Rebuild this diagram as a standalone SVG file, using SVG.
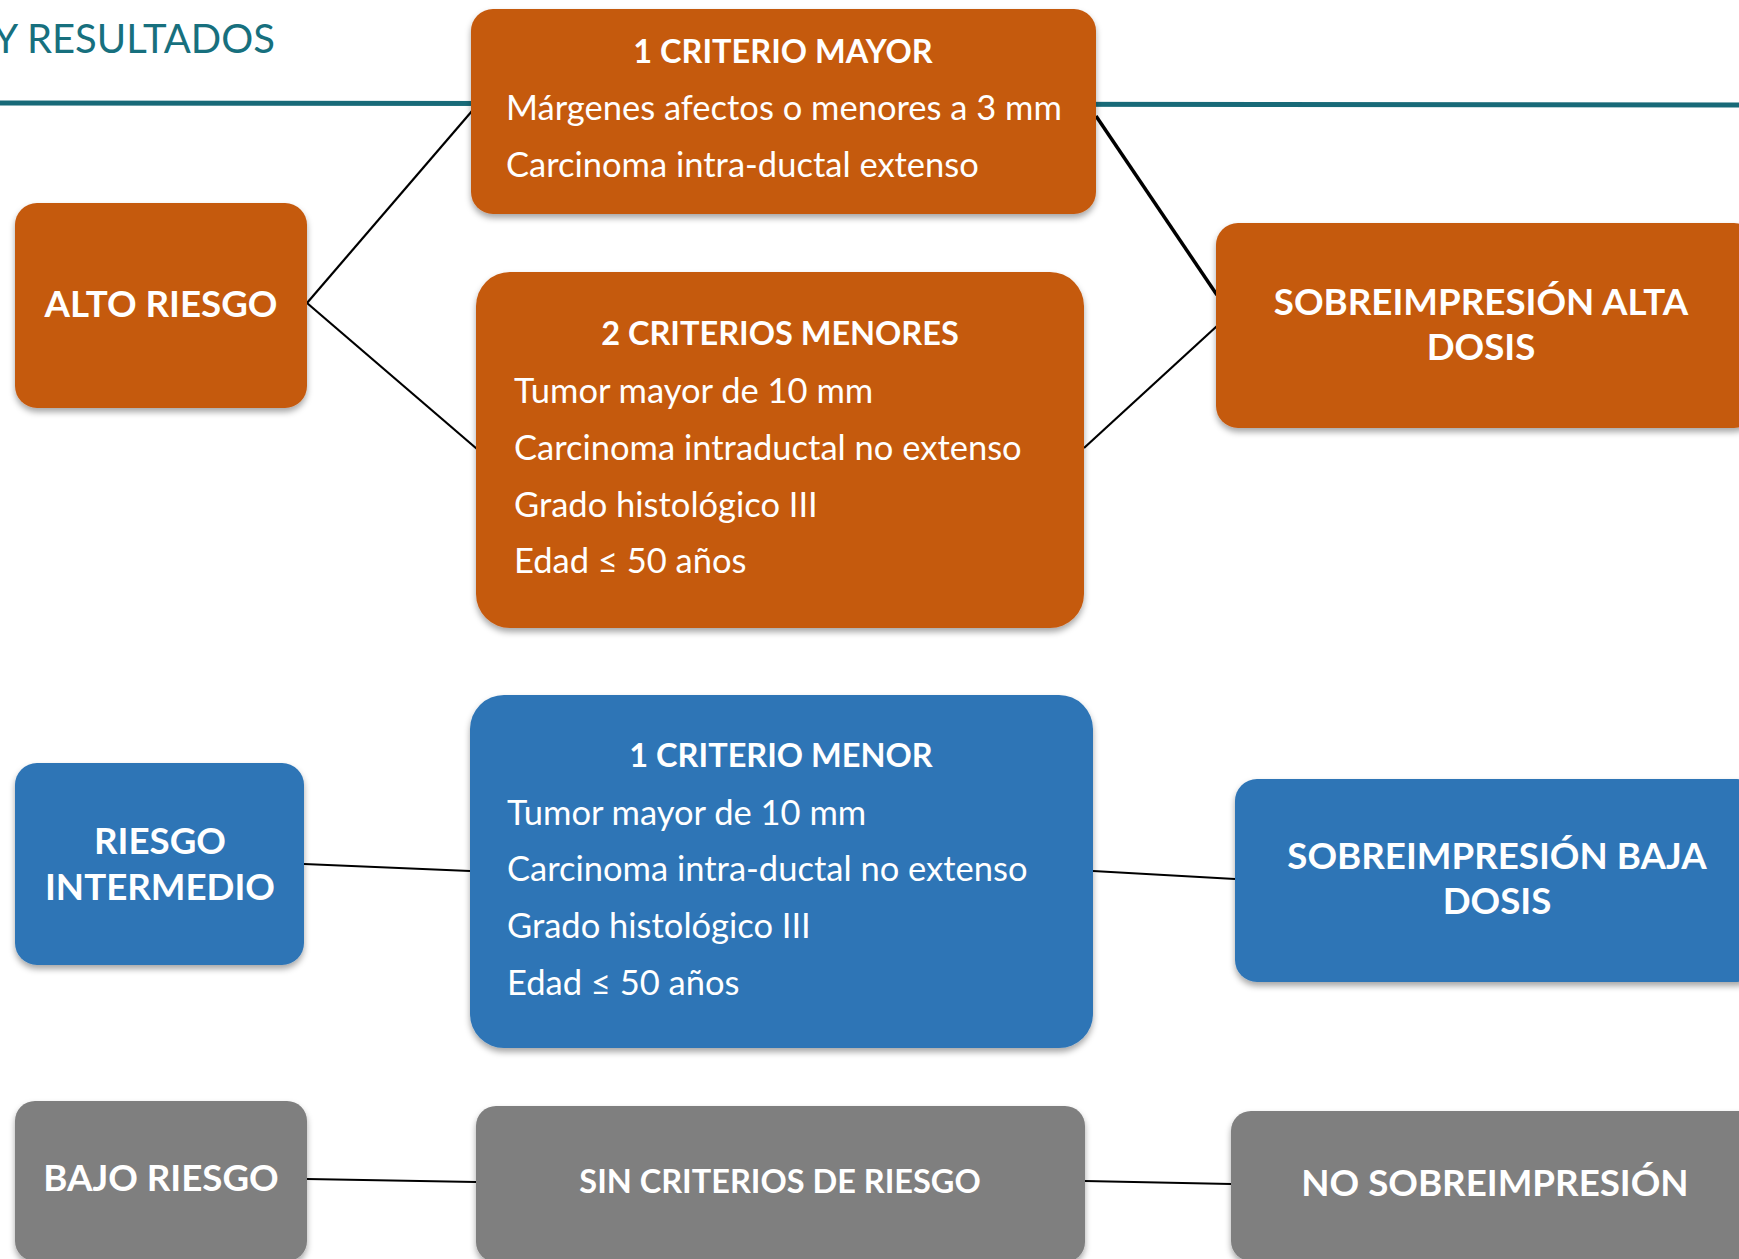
<svg xmlns="http://www.w3.org/2000/svg" width="1739" height="1259" viewBox="0 0 1739 1259">
<defs>
<filter id="sh" x="-10%" y="-10%" width="120%" height="130%">
<feDropShadow dx="0" dy="4" stdDeviation="3" flood-color="#000" flood-opacity="0.35"/>
</filter>
<style>
.or{fill:#C55A11;filter:url(#sh)}
.bl{fill:#2E75B6;filter:url(#sh)}
.gr{fill:#7F7F7F;filter:url(#sh)}
.lbl{font-family:Lato,"Noto Sans",sans-serif;font-weight:bold;font-size:36.7px;fill:#fff;text-anchor:middle}
.ttl{font-family:Lato,"Noto Sans",sans-serif;font-weight:bold;font-size:32.5px;fill:#fff;text-anchor:middle}
.txt{font-family:Lato,"Noto Sans",sans-serif;font-size:34.5px;fill:#fff}
.cn{stroke:#000;stroke-width:2.2;fill:none}
</style>
</defs>
<rect width="1739" height="1259" fill="#fff"/>
<text x="275" y="53" font-family="Lato,'Noto Sans',sans-serif" font-size="40" fill="#17707E" text-anchor="end">Y RESULTADOS</text>
<line x1="0" y1="103" x2="1739" y2="105" stroke="#186A78" stroke-width="5"/>
<g id="connectors">
<line class="cn" x1="307" y1="303" x2="472" y2="111"/>
<line class="cn" x1="307" y1="303" x2="477" y2="449"/>
<line class="cn" x1="1096" y1="116" x2="1217" y2="295" style="stroke-width:3.5"/>
<line class="cn" x1="1084" y1="448" x2="1217" y2="326"/>
<line class="cn" x1="304" y1="864" x2="470" y2="871"/>
<line class="cn" x1="1093" y1="871" x2="1235" y2="879"/>
<line class="cn" x1="307" y1="1179" x2="476" y2="1182"/>
<line class="cn" x1="1085" y1="1181" x2="1231" y2="1184"/>
</g>
<g id="alto-riesgo">
<rect class="or" x="15" y="203" width="292" height="205" rx="22"/>
<text class="lbl" x="161" y="317">ALTO RIESGO</text>
</g>
<g id="criterio-mayor">
<rect class="or" x="471" y="9" width="625" height="205" rx="22"/>
<text class="ttl" x="783" y="63">1 CRITERIO MAYOR</text>
<text class="txt" x="506" y="120">Márgenes afectos o menores a 3 mm</text>
<text class="txt" x="506" y="177">Carcinoma intra-ductal extenso</text>
</g>
<g id="criterios-menores">
<rect class="or" x="476" y="272" width="608" height="356" rx="34"/>
<text class="ttl" x="780" y="345">2 CRITERIOS MENORES</text>
<text class="txt" x="514" y="403">Tumor mayor de 10 mm</text>
<text class="txt" x="514" y="460">Carcinoma intraductal no extenso</text>
<text class="txt" x="514" y="517">Grado histológico III</text>
<text class="txt" x="514" y="573">Edad ≤ 50 años</text>
</g>
<g id="alta-dosis">
<rect class="or" x="1216" y="223" width="540" height="205" rx="22"/>
<text class="lbl" x="1481" y="315">SOBREIMPRESIÓN ALTA</text>
<text class="lbl" x="1481" y="360">DOSIS</text>
</g>
<g id="riesgo-intermedio">
<rect class="bl" x="15" y="763" width="289" height="202" rx="22"/>
<text class="lbl" x="160" y="854">RIESGO</text>
<text class="lbl" x="160" y="900">INTERMEDIO</text>
</g>
<g id="criterio-menor">
<rect class="bl" x="470" y="695" width="623" height="353" rx="34"/>
<text class="ttl" x="781" y="767">1 CRITERIO MENOR</text>
<text class="txt" x="507" y="825">Tumor mayor de 10 mm</text>
<text class="txt" x="507" y="881">Carcinoma intra-ductal no extenso</text>
<text class="txt" x="507" y="938">Grado histológico III</text>
<text class="txt" x="507" y="995">Edad ≤ 50 años</text>
</g>
<g id="baja-dosis">
<rect class="bl" x="1235" y="779" width="524" height="203" rx="22"/>
<text class="lbl" x="1497" y="869">SOBREIMPRESIÓN BAJA</text>
<text class="lbl" x="1497" y="914">DOSIS</text>
</g>
<g id="bajo-riesgo">
<rect class="gr" x="15" y="1101" width="292" height="160" rx="20"/>
<text class="lbl" x="161" y="1191">BAJO RIESGO</text>
</g>
<g id="sin-criterios">
<rect class="gr" x="476" y="1106" width="609" height="156" rx="20"/>
<text class="ttl" x="780" y="1193">SIN CRITERIOS DE RIESGO</text>
</g>
<g id="no-sobreimpresion">
<rect class="gr" x="1231" y="1111" width="528" height="150" rx="20"/>
<text class="lbl" x="1495" y="1196">NO SOBREIMPRESIÓN</text>
</g>
</svg>
